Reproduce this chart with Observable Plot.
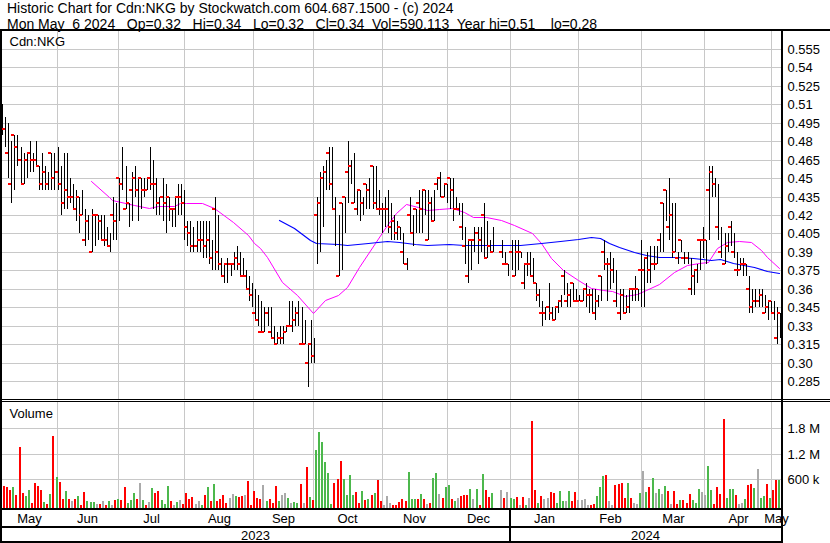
<!DOCTYPE html>
<html><head><meta charset="utf-8">
<script src="https://cdn.jsdelivr.net/npm/d3@7"></script>
<script src="https://cdn.jsdelivr.net/npm/@observablehq/plot@0.6"></script>
<style>
html,body{margin:0;padding:0;background:#fff;}
body{width:830px;height:543px;position:relative;overflow:hidden;font-family:"Liberation Sans",Arial,sans-serif;color:#000;}
.hdr{position:absolute;left:7px;font-size:14px;line-height:13px;white-space:pre;}
.ln{position:absolute;background:#000;}
#price{position:absolute;left:0;top:30px;}
#vol{position:absolute;left:0;top:400px;}
</style></head><body>
<div class="hdr" id="h1" style="top:2px"></div>
<div class="hdr" id="h2" style="top:17.9px"></div>
<div id="price"></div>
<div id="vol"></div>
<div class="ln" style="left:0;top:29px;width:830px;height:2px"></div>
<div class="ln" style="left:0;top:29px;width:2px;height:514px"></div>
<div class="ln" style="left:781px;top:29px;width:2px;height:514px"></div>
<div class="ln" style="left:0;top:399px;width:830px;height:1px"></div>
<div class="ln" style="left:0;top:401px;width:830px;height:1px"></div>
<div class="ln" style="left:0;top:508px;width:783px;height:2px"></div>
<div class="ln" style="left:0;top:526px;width:783px;height:2px"></div>
<div class="ln" style="left:0;top:541px;width:783px;height:2px"></div>
<div class="ln" id="yearSep" style="top:510px;width:2px;height:33px"></div>
<script>
// ---------- DATA ----------
const headerLine1 = "Historic Chart for Cdn:NKG by Stockwatch.com 604.687.1500 - (c) 2024";
const headerLine2 = "Mon May  6 2024   Op=0.32   Hi=0.34   Lo=0.32   Cl=0.34  Vol=590,113  Year hi=0.51    lo=0.28";
const symbol = "Cdn:NKG";

// trading-day highs (index 0 = early May 2023, last = May 6 2024); null = no bar
const high = [
.51,.50,.495,.48,.485,.485,.475,.47,.47,.48,
.47,.48,.46,.47,.46,.455,.47,.47,.475,.46,
.47,.47,.45,.445,.44,.435,.44,.425,.42,.425,
.42,.42,.42,.42,.41,.405,.435,.43,.45,.475,
.46,.43,.455,.46,.45,.45,.45,.45,.475,.465,
.45,.435,.45,.445,.435,.425,.435,.445,.445,.44,
.415,.415,.41,.415,.415,.415,.415,.415,.40,.435,
.42,.385,.38,.385,.38,.39,.395,.39,.385,.375,
.37,.365,.36,.355,.35,.345,.345,.345,.33,.325,
.33,.33,.33,.35,.35,.345,.35,.345,.335,.315,
.335,.32,.435,.455,.46,.465,.475,.475,.435,.42,
.43,.435,.48,.465,.47,.44,.44,.435,.445,.45,
.46,.46,.44,.43,.435,.44,.43,.42,.415,.41,
.405,.385,.435,.42,.425,.44,.44,.44,.44,.435,
.44,.45,.455,.445,.445,.45,.45,.435,.43,.43,
.41,.40,.40,.41,.41,.41,.43,.415,.40,.41,
null,null,.40,.39,.38,.40,.40,.40,.39,.38,
.39,.39,.385,.365,.36,.35,.345,.365,.345,.345,
.35,.355,.375,.365,.36,.365,.36,.355,.36,.365,
.36,.36,.36,.355,.37,.40,.385,.39,.385,.375,
.36,.36,.355,.36,.36,.37,.36,.40,.385,.39,
.395,.395,.395,.405,.43,.44,.45,.43,.43,.39,
.40,.39,.39,.385,.375,.38,.40,.41,.40,.46,
.46,.45,.445,.41,.405,.405,.415,.405,.39,.385,
.385,.38,.37,.36,.36,.36,.36,.355,.35,.35,
.35,.345,.34];
const low = [
.485,.475,.45,.43,.44,.46,.445,.445,.45,.455,
.455,.46,.44,.44,.44,.44,.44,.44,.44,.42,
.425,.425,.43,.425,.415,.405,.42,.395,.40,.39,
.395,.40,.40,.395,.395,.39,.40,.40,.415,.44,
.425,.41,.415,.435,.415,.425,.435,.44,.44,.425,
.42,.42,.415,.405,.415,.41,.41,.42,.42,.40,
.395,.39,.39,.39,.39,.385,.385,.38,.375,.375,
.375,.37,.365,.365,.37,.375,.375,.37,.37,.36,
.35,.345,.335,.33,.325,.325,.33,.32,.315,.315,
.315,.315,.325,.33,.325,.33,.33,.315,.315,.28,
.30,.30,.38,.39,.41,.44,.44,.425,.395,.37,
.375,.405,.43,.445,.43,.42,.415,.42,.425,.425,
.425,.425,.42,.405,.41,.405,.40,.40,.40,.40,
.38,.375,.405,.395,.405,.405,.405,.42,.40,.415,
.415,.44,.435,.435,.43,.425,.415,.425,.42,.40,
.38,.365,.375,.39,.38,.39,.385,.385,.39,.39,
null,null,.385,.38,.37,.375,.37,.375,.385,.36,
.37,.37,.365,.35,.345,.33,.335,.335,.335,.335,
.34,.345,.355,.345,.345,.35,.35,.35,.35,.345,
.34,.34,.335,.345,.35,.375,.35,.36,.365,.345,
.335,.34,.34,.34,.35,.35,.35,.345,.345,.365,
.365,.375,.38,.39,.39,.415,.40,.385,.39,.38,
.39,.38,.38,.355,.355,.365,.375,.385,.38,.40,
.435,.435,.40,.385,.38,.39,.395,.385,.37,.375,
.37,.37,.34,.34,.345,.345,.345,.34,.335,.34,
.335,.315,.32];
const close = [
.50,.49,.47,.445,.485,.475,.465,.445,.465,.47,
.465,.465,.46,.445,.455,.445,.47,.45,.455,.445,
.43,.44,.435,.435,.425,.435,.42,.40,.415,.39,
.42,.42,.415,.40,.40,.395,.42,.415,.45,.445,
.425,.43,.44,.45,.44,.45,.44,.44,.45,.445,
.445,.43,.435,.43,.435,.425,.425,.435,.435,.43,
.41,.405,.395,.395,.40,.40,.395,.40,.385,.425,
.39,.38,.37,.38,.38,.38,.385,.38,.37,.37,
.36,.355,.34,.335,.325,.325,.34,.325,.32,.315,
.32,.32,.325,.33,.33,.335,.34,.315,.315,.30,
.315,.305,.42,.43,.45,.455,.47,.445,.425,.37,
.43,.435,.455,.46,.43,.425,.44,.43,.445,.44,
.46,.43,.425,.425,.425,.425,.41,.415,.405,.41,
.39,.38,.42,.405,.425,.43,.425,.44,.40,.43,
.415,.445,.45,.435,.445,.45,.44,.425,.425,.41,
.395,.37,.40,.40,.405,.40,.42,.385,.395,.39,
null,null,.39,.38,.38,.39,.37,.39,.39,.365,
.38,.38,.37,.365,.355,.34,.34,.345,.34,.335,
.345,.35,.37,.35,.355,.365,.35,.35,.35,.36,
.355,.355,.34,.35,.37,.39,.38,.38,.375,.35,
.34,.355,.34,.345,.36,.36,.36,.375,.375,.385,
.375,.38,.38,.40,.43,.44,.41,.42,.39,.385,
.40,.385,.385,.36,.37,.375,.40,.40,.40,.44,
.455,.445,.41,.39,.38,.395,.41,.39,.375,.375,
.38,.38,.36,.345,.35,.35,.355,.34,.345,.35,
.34,.32,.34];

// daily volume in thousands of shares
const volumeK = [
508,446,415,361,423,246,1353,285,223,354,
40,515,454,354,69,38,261,1623,654,538,
146,331,146,108,146,215,8,308,100,85,
85,31,38,100,8,100,8,123,146,123,
423,54,123,285,154,515,123,8,69,400,
285,331,123,30,446,100,8,77,123,30,
285,146,192,30,100,8,238,423,100,492,
100,146,238,54,169,261,215,192,215,238,
554,8,331,169,146,469,100,146,54,446,
100,238,285,169,54,77,54,492,54,885,
192,123,1277,1715,1484,1000,746,30,515,608,
1023,608,246,700,246,308,54,331,123,146,
238,285,584,100,8,215,54,8,8,77,
146,100,769,146,146,146,261,146,20,54,
631,746,261,169,423,469,146,100,169,215,
238,238,377,146,377,8,723,354,192,285,
0,0,354,169,308,169,146,192,8,192,
15,169,1969,354,54,215,146,169,308,285,
54,331,100,100,331,100,308,123,123,146,
10,8,31,215,423,677,700,100,8,469,
492,515,169,515,169,54,31,285,800,308,
423,631,285,377,261,446,331,31,331,31,
123,123,54,261,123,54,377,308,238,908,
354,31,423,261,2015,169,377,377,238,31,
54,146,469,492,400,838,169,215,492,169,
354,584,590];
// day's change: u = up, d = down, n = unchanged
const volChange = [
"nddduddduu","ddddududud","dudndudduu","undndundud","duuudnudnu",
"dduuudnund","dddnnududu","ddddnnuddn","dddddnuddd","unnunuudnd",
"uduuuuuudd","duuuuddudu","duddnnnddd","dduuududnd","uunduudund",
"ddunududdu","nnndnuudnd","unddudnndd","uuunuddnnn","ndduuudnnd",
"dddudnnunu","dununudndd","uddduuunnu","udddduuudn","nuddunuudu","ddu"].join("");

// moving averages: [trading-day index, price]
const maShort = [[29,.448],[35,.435],[36,.432],[43,.428],[48,.426],[51,.427],[56,.427],[58,.4295],[60,.43],[65,.4295],[69,.426],[75,.4145],[80,.4037],[82,.397],[84,.393],[86,.386],[91,.3657],[96,.355],[101,.3405],[105,.3509],[109,.355],[112,.3617],[116,.378],[121,.397],[125,.4118],[128,.4213],[131,.4289],[135,.4267],[138,.424],[142,.4246],[146,.426],[150,.4222],[153,.4186],[157,.418],[162,.416],[166,.4118],[172,.405],[175,.397],[178,.3848],[182,.375],[187,.367],[191,.3604],[195,.359],[198,.3584],[202,.3545],[206,.3557],[209,.359],[213,.3635],[218,.3739],[222,.379],[226,.3807],[229,.382],[232,.3929],[235,.3983],[239,.399],[243,.3983],[246,.3915],[248,.386],[252,.3766]];
const maLong = [[90,.4159],[95,.409],[100,.3996],[102,.397],[109,.3964],[112,.3956],[119,.3974],[125,.399],[129,.398],[134,.3964],[138,.3956],[145,.3964],[150,.3956],[159,.3956],[168,.3956],[175,.397],[181,.399],[187,.4002],[191,.4018],[194,.401],[197,.3974],[200,.394],[205,.3901],[209,.3874],[213,.386],[219,.3856],[224,.3848],[230,.3834],[233,.384],[237,.3807],[244,.3774],[248,.3747],[252,.3726]];

const priceTickLabels = ["0.555","0.54","0.525","0.51","0.495","0.48","0.465","0.45","0.435","0.42","0.405","0.39","0.375","0.36","0.345","0.33","0.315","0.30","0.285"];
const volTickLabels = ["600 k","1.2 M","1.8 M"];
const volTicks = [600000,1200000,1800000];

const monthNames = ["May","Jun","Jul","Aug","Sep","Oct","Nov","Dec","Jan","Feb","Mar","Apr","May"];
const monthStart = [0,18.0,38.0,59.4,81.7,101.1,123.3,144.3,164.8,186.9,207.3,227.8,249.3];
const yearNames = ["2023","2024"];
const yearStart = [0,164.8];

// ---------- CHART ----------
document.getElementById("h1").textContent = headerLine1;
document.getElementById("h2").textContent = headerLine2;

const xDomain = [0, 252.6];
const font = '"Liberation Sans", Arial, sans-serif';
const priceTicks = priceTickLabels.map(Number);
const bars = high.map((h, i) => ({i, h, l: low[i], c: close[i]})).filter(d => d.h != null);
const vols = volumeK.map((v, i) => ({i, v: v * 1000, dir: volChange[i]}));
const grid = "#c8c8c8";
const gridX = monthStart.slice(1);

const price = Plot.plot({
  width: 830, height: 370,
  marginLeft: 1, marginRight: 49, marginTop: 1, marginBottom: 1,
  x: {domain: xDomain, round: true, axis: null},
  y: {domain: [0.27037, 0.56955], round: true, axis: null},
  style: {fontFamily: font, fontSize: "13px", background: "transparent", overflow: "visible", color: "#000"},
  marks: [
    Plot.gridY(priceTicks, {stroke: grid, strokeOpacity: 1}),
    Plot.gridX(gridX, {stroke: grid, strokeOpacity: 1}),
    Plot.axisY(priceTicks, {anchor: "right", label: null, tickSize: 0, tickPadding: 6, fontSize: 13,
      tickFormat: d => priceTickLabels[priceTicks.indexOf(d)]}),
    Plot.line(maShort, {x: d => d[0], y: d => d[1], stroke: "#ff00ff", strokeWidth: 1}),
    Plot.line(maLong, {x: d => d[0], y: d => d[1], stroke: "#0000ff", strokeWidth: 1.2}),
    Plot.ruleX(bars, {x: "i", y1: "l", y2: "h", stroke: "#000", strokeWidth: 1, dx: 1}),
    Plot.rect(bars, {x1: "i", x2: "i", y1: "c", y2: "c", insetLeft: -2, insetRight: -1, insetTop: -1, insetBottom: -1, fill: "#ff0000"}),
    Plot.text([symbol], {frameAnchor: "top-left", dx: 8, dy: 5, fontSize: 13, fill: "#000"})
  ]
});
document.getElementById("price").appendChild(price);

const volY = [-65400, 2407000];
const monthMid = monthStart.map((s, k) => (s + (k + 1 < monthStart.length ? monthStart[k + 1] : xDomain[1])) / 2);
const yearMid = yearStart.map((s, k) => (s + (k + 1 < yearStart.length ? yearStart[k + 1] : xDomain[1])) / 2);
const colorOf = {u: "#4cb84c", d: "#ff0000", n: "#aaaaaa"};

const vol = Plot.plot({
  width: 830, height: 143,
  marginLeft: 1, marginRight: 49, marginTop: 2, marginBottom: 35,
  x: {domain: xDomain, round: true, axis: null},
  y: {domain: volY, round: true, axis: null},
  style: {fontFamily: font, fontSize: "13px", background: "transparent", overflow: "visible", color: "#000"},
  marks: [
    Plot.gridY(volTicks, {stroke: grid, strokeOpacity: 1}),
    Plot.gridX(gridX, {stroke: grid, strokeOpacity: 1}),
    ...["u", "d", "n"].map(k => Plot.rect(vols.filter(d => d.dir === k && d.v > 0),
      {x1: "i", x2: "i", y1: volY[0], y2: "v", insetLeft: -1, insetRight: -1, fill: colorOf[k]})),
    Plot.axisY(volTicks, {anchor: "right", label: null, tickSize: 0, tickPadding: 6, fontSize: 13,
      tickFormat: d => volTickLabels[volTicks.indexOf(d)]}),
    Plot.axisX(monthMid, {anchor: "bottom", label: null, tickSize: 0, tickPadding: 5, fontSize: 13,
      tickFormat: d => monthNames[monthMid.indexOf(d)]}),
    Plot.axisX(yearMid, {anchor: "bottom", label: null, tickSize: 0, tickPadding: 22, fontSize: 13,
      tickFormat: d => yearNames[yearMid.indexOf(d)]}),
    Plot.text(["Volume"], {frameAnchor: "top-left", dx: 8, dy: 6, fontSize: 13, fill: "#000"})
  ]
});
document.getElementById("vol").appendChild(vol);

// year separator placed at the January boundary through the x scale
const xs = price.scale("x");
document.getElementById("yearSep").style.left = (Math.round(xs.apply(yearStart[1])) - 1) + "px";
</script>
</body></html>
